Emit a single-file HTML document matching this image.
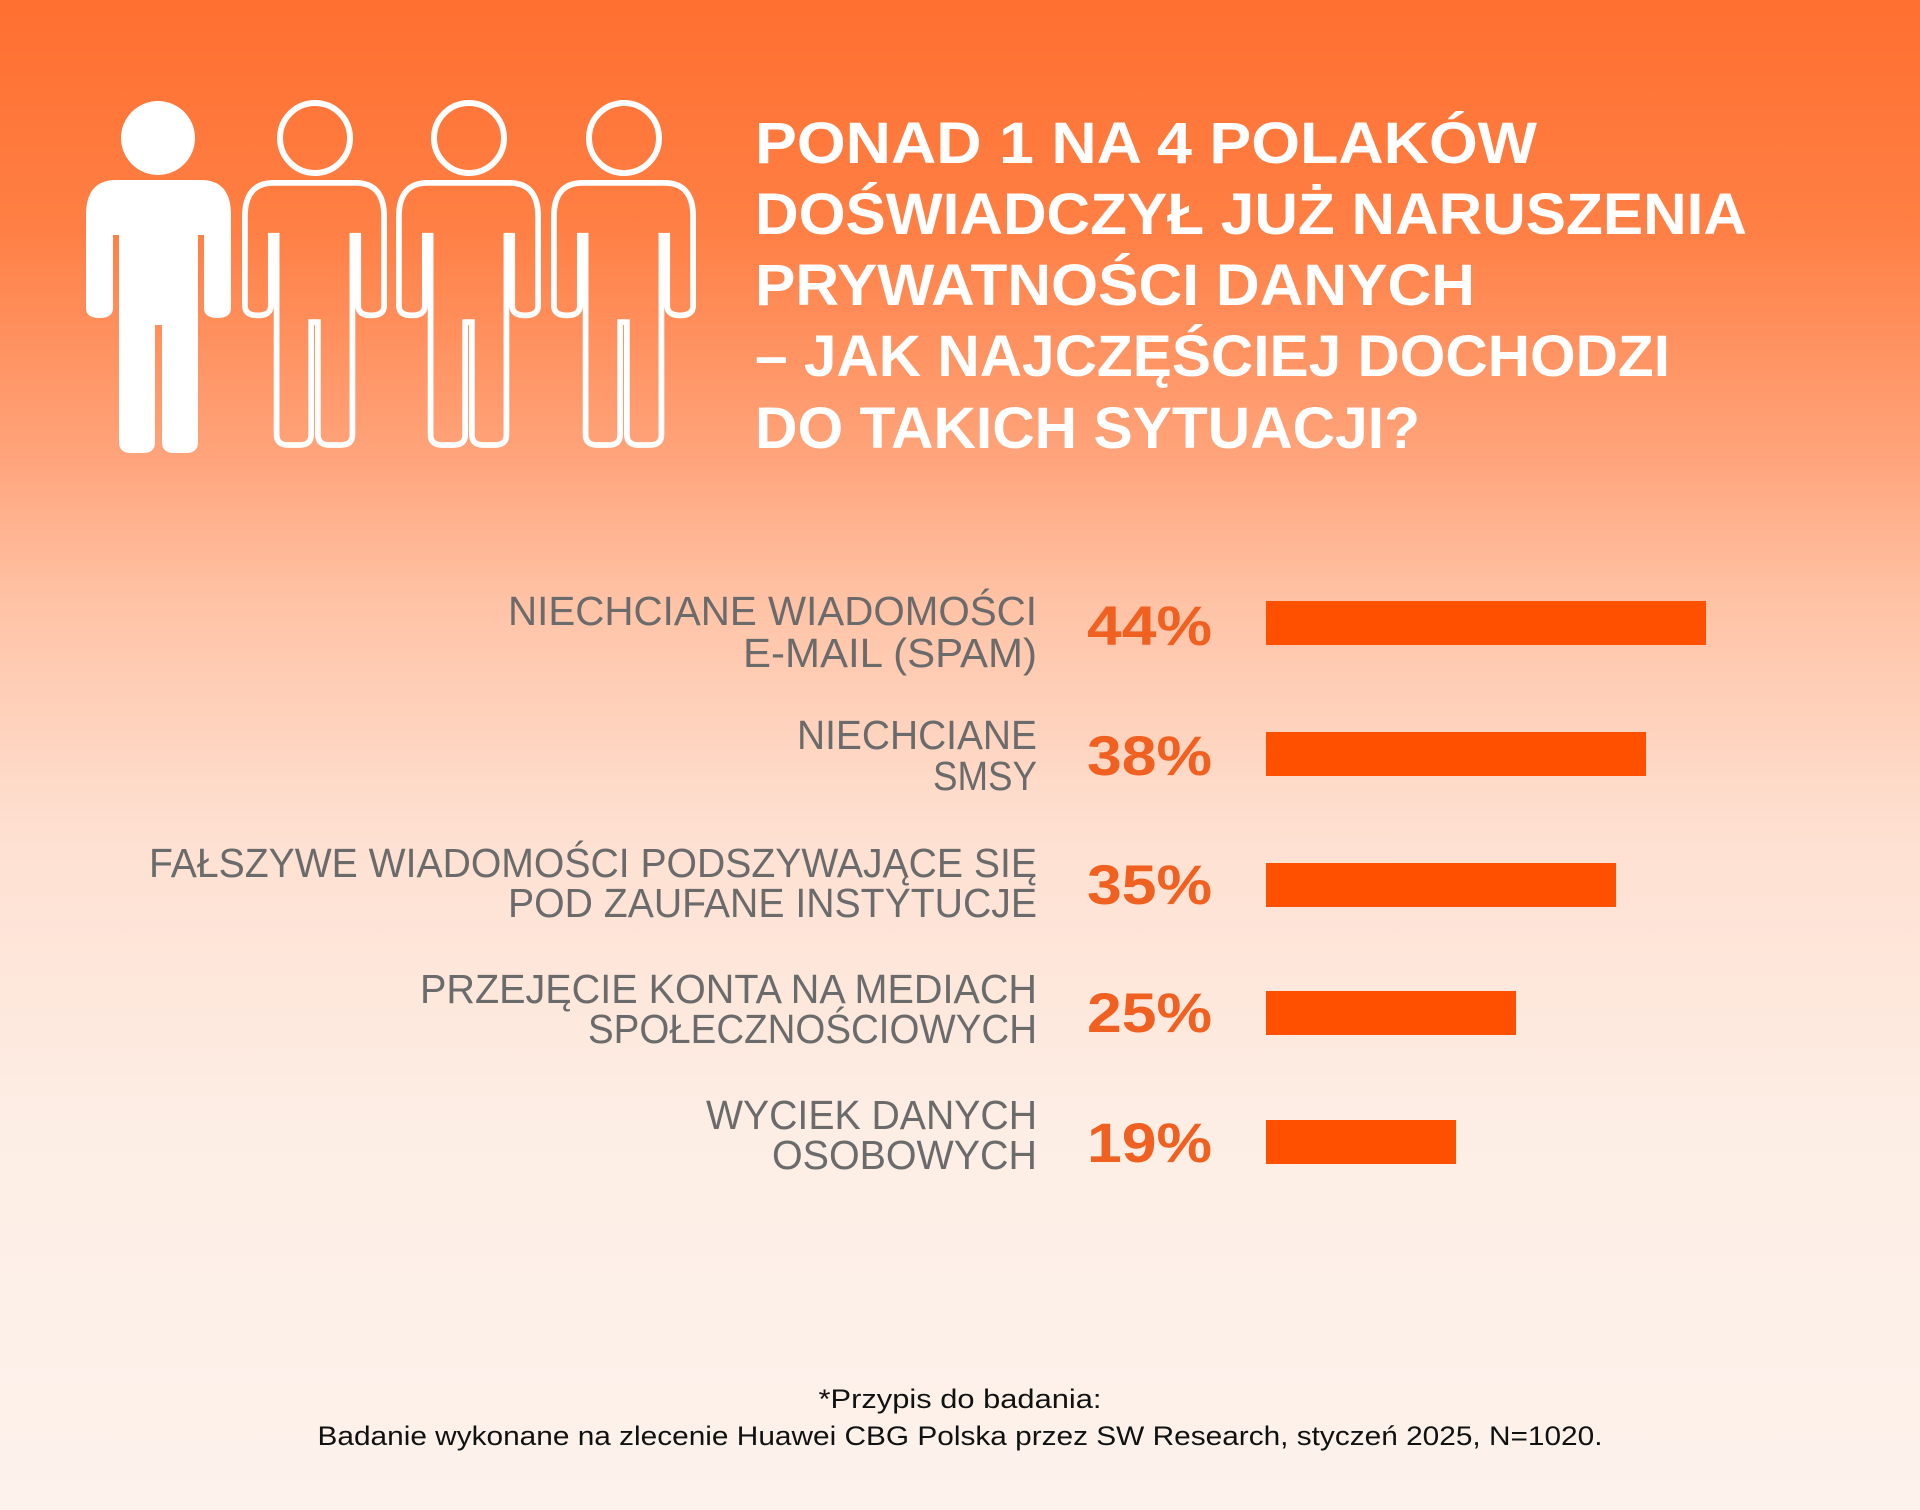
<!DOCTYPE html>
<html><head><meta charset="utf-8"><style>
html,body{margin:0;padding:0;width:1920px;height:1510px;overflow:hidden}
svg{display:block}
</style></head><body>
<svg width="1920" height="1510" viewBox="0 0 1920 1510" xmlns="http://www.w3.org/2000/svg" font-family="Liberation Sans, DejaVu Sans, sans-serif">
<defs>
<linearGradient id="bg" x1="0" y1="0" x2="0" y2="1">
<stop offset="0" stop-color="#ff6f30"/>
<stop offset="0.15" stop-color="#ff7f44"/>
<stop offset="0.3" stop-color="#ffa37a"/>
<stop offset="0.4" stop-color="#ffc3a6"/>
<stop offset="0.55" stop-color="#fee0d1"/>
<stop offset="0.75" stop-color="#fdeee5"/>
<stop offset="1" stop-color="#fdf2ec"/>
</linearGradient>
<path id="fig" d="M30,0 H115 Q145,0 145,35 V128 Q145,138 131.5,138 Q118,138 118,128 V55 H112 V262 Q112,273 100,273 H88 Q76,273 76,262 V145 H69 V262 Q69,273 57,273 H45 Q33,273 33,262 V55 H27 V128 Q27,138 13.5,138 Q0,138 0,128 V35 Q0,0 30,0 Z"/>
</defs>
<rect width="1920" height="1510" fill="url(#bg)"/>
<!-- figures -->
<circle cx="158" cy="138" r="37" fill="#fff"/>
<use href="#fig" x="86" y="180" fill="#fff"/>
<g fill="none" stroke="#fff" stroke-width="6">
<circle cx="315" cy="138" r="35"/>
<use href="#fig" x="245" y="183" transform="translate(243 181) scale(0.96) translate(-243 -181)"/>
<circle cx="469" cy="138" r="35"/>
<use href="#fig" x="399" y="183" transform="translate(397 181) scale(0.96) translate(-397 -181)"/>
<circle cx="624" cy="138" r="35"/>
<use href="#fig" x="554" y="183" transform="translate(552 181) scale(0.96) translate(-552 -181)"/>
</g>
<!-- title -->
<g fill="#fff" font-weight="bold" font-size="58">
<text x="755" y="163" textLength="782" lengthAdjust="spacingAndGlyphs">PONAD 1 NA 4 POLAKÓW</text>
<text x="755" y="234" textLength="992" lengthAdjust="spacingAndGlyphs">DOŚWIADCZYŁ JUŻ NARUSZENIA</text>
<text x="755" y="305" textLength="720" lengthAdjust="spacingAndGlyphs">PRYWATNOŚCI DANYCH</text>
<text x="755" y="376" textLength="915" lengthAdjust="spacingAndGlyphs">– JAK NAJCZĘŚCIEJ DOCHODZI</text>
<text x="755" y="448" textLength="665" lengthAdjust="spacingAndGlyphs">DO TAKICH SYTUACJI?</text>
</g>
<!-- labels -->
<g fill="#6b6b6b" font-size="41" text-anchor="end">
<text x="1037" y="625" textLength="529" lengthAdjust="spacingAndGlyphs">NIECHCIANE WIADOMOŚCI</text>
<text x="1037" y="667" textLength="294" lengthAdjust="spacingAndGlyphs">E-MAIL (SPAM)</text>
<text x="1037" y="749" textLength="240" lengthAdjust="spacingAndGlyphs">NIECHCIANE</text>
<text x="1037" y="790" textLength="104" lengthAdjust="spacingAndGlyphs">SMSY</text>
<text x="1037" y="877" textLength="888" lengthAdjust="spacingAndGlyphs">FAŁSZYWE WIADOMOŚCI PODSZYWAJĄCE SIĘ</text>
<text x="1037" y="917" textLength="529" lengthAdjust="spacingAndGlyphs">POD ZAUFANE INSTYTUCJE</text>
<text x="1037" y="1003" textLength="617" lengthAdjust="spacingAndGlyphs">PRZEJĘCIE KONTA NA MEDIACH</text>
<text x="1037" y="1043" textLength="449" lengthAdjust="spacingAndGlyphs">SPOŁECZNOŚCIOWYCH</text>
<text x="1037" y="1129" textLength="331" lengthAdjust="spacingAndGlyphs">WYCIEK DANYCH</text>
<text x="1037" y="1169" textLength="265" lengthAdjust="spacingAndGlyphs">OSOBOWYCH</text>
</g>
<!-- percents -->
<g fill="#f06020" font-weight="bold" font-size="56">
<text x="1087" y="645" textLength="125" lengthAdjust="spacingAndGlyphs">44%</text>
<text x="1087" y="775" textLength="125" lengthAdjust="spacingAndGlyphs">38%</text>
<text x="1087" y="904" textLength="125" lengthAdjust="spacingAndGlyphs">35%</text>
<text x="1087" y="1032" textLength="125" lengthAdjust="spacingAndGlyphs">25%</text>
<text x="1087" y="1162" textLength="125" lengthAdjust="spacingAndGlyphs">19%</text>
</g>
<!-- bars -->
<g fill="#ff5000">
<rect x="1266" y="601" width="440" height="44"/>
<rect x="1266" y="732" width="380" height="44"/>
<rect x="1266" y="863" width="350" height="44"/>
<rect x="1266" y="991" width="250" height="44"/>
<rect x="1266" y="1120" width="190" height="44"/>
</g>
<!-- footer -->
<g fill="#111" font-size="27" text-anchor="middle">
<text x="960" y="1408" textLength="283" lengthAdjust="spacingAndGlyphs">*Przypis do badania:</text>
<text x="960" y="1445" textLength="1285" lengthAdjust="spacingAndGlyphs">Badanie wykonane na zlecenie Huawei CBG Polska przez SW Research, styczeń 2025, N=1020.</text>
</g>
</svg>
</body></html>
